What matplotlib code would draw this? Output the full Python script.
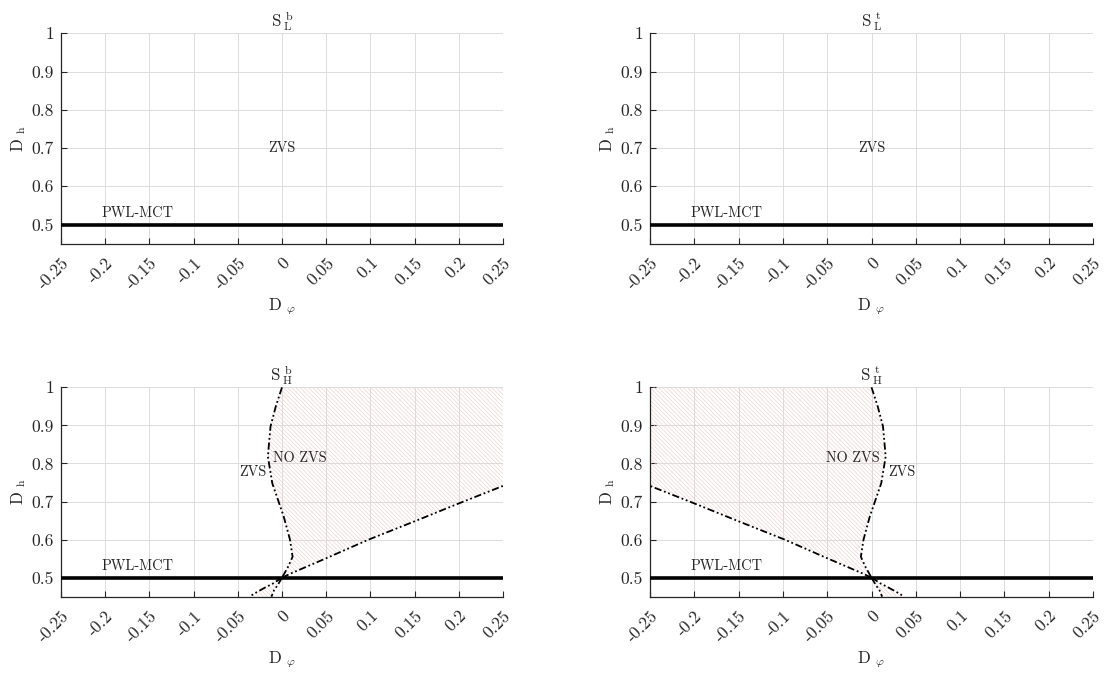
import matplotlib
matplotlib.use("Agg")
import matplotlib.pyplot as plt
import numpy as np

plt.rcParams['font.family'] = ['cmr10', 'DejaVu Serif']
plt.rcParams['mathtext.fontset'] = 'cm'
plt.rcParams['axes.unicode_minus'] = False
plt.rcParams['hatch.linewidth'] = 0.45
plt.rcParams['hatch.color'] = '#f0cfcf'

# ---- data ----
x_ticks = [-0.25, -0.2, -0.15, -0.1, -0.05, 0, 0.05, 0.1, 0.15, 0.2, 0.25]
x_ticklabels = ['-0.25', '-0.2', '-0.15', '-0.1', '-0.05', '0', '0.05', '0.1', '0.15', '0.2', '0.25']
y_ticks = [0.5, 0.6, 0.7, 0.8, 0.9, 1.0]
y_ticklabels = ['0.5', '0.6', '0.7', '0.8', '0.9', '1']

pwl_level = 0.5

# boundary curve 1 (S-shaped), for the "b" panel; "t" panel is its mirror
c1_upper_x = [0.0, -0.007, -0.013, -0.016, -0.011, 0.002, 0.009, 0.012, 0.007, 0.0]
c1_upper_y = [1.0, 0.95, 0.897, 0.818, 0.748, 0.66, 0.60, 0.555, 0.529, 0.5]
c1_lower_x = [0.0, -0.005, -0.009, -0.012]
c1_lower_y = [0.5, 0.48, 0.467, 0.45]

# boundary curve 2 (nearly straight)
c2_upper_x = [0.0, 0.01, 0.05, 0.098, 0.15, 0.2, 0.25]
c2_upper_y = [0.5, 0.511, 0.551, 0.60, 0.648, 0.695, 0.741]
c2_lower_x = [0.0, -0.01, -0.02, -0.03, -0.037]
c2_lower_y = [0.5, 0.485, 0.473, 0.46, 0.45]

titles = [r'$\mathrm{S}\,_{\mathrm{L}}^{\,\mathrm{b}}$', r'$\mathrm{S}\,_{\mathrm{L}}^{\,\mathrm{t}}$',
          r'$\mathrm{S}\,_{\mathrm{H}}^{\,\mathrm{b}}$', r'$\mathrm{S}\,_{\mathrm{H}}^{\,\mathrm{t}}$']

fig = plt.figure(figsize=(11.13, 6.75), dpi=100)
W, H = 1113, 675
positions = [
    (61, 33.3, 503, 243.7),
    (650, 33.3, 1093, 243.7),
    (61, 387.3, 503, 596.7),
    (650, 387.3, 1093, 596.7),
]
axes = []
for (l, t, r, b) in positions:
    ax = fig.add_axes([l / W, 1 - b / H, (r - l) / W, (b - t) / H])
    axes.append(ax)

line_style = (0, (4, 1.5, 1, 1.5, 1, 1.5))
fs = 12.6
lfs = 12.2
tfs = 10.3
hatch = '\\' * 8
txtc = '#262626'

for i, ax in enumerate(axes):
    ax.set_xlim(-0.25, 0.25)
    ax.set_ylim(0.45, 1.0)
    ax.set_xticks(x_ticks)
    ax.set_xticklabels(x_ticklabels, rotation=45, ha='right', va='top',
                       rotation_mode='anchor', fontsize=fs, color=txtc)
    ax.set_yticks(y_ticks)
    ax.set_yticklabels(y_ticklabels, fontsize=fs, color=txtc)
    ax.tick_params(direction='in', length=4, width=0.8, color=txtc)
    ax.tick_params(axis='x', pad=8)
    ax.tick_params(axis='y', pad=5)
    ax.grid(True, color='#dcdcdc', linewidth=0.7)
    ax.set_axisbelow(True)
    for s in ['top', 'right']:
        ax.spines[s].set_visible(False)
    for s in ['left', 'bottom']:
        ax.spines[s].set_color(txtc)
        ax.spines[s].set_linewidth(0.9)
    ax.set_xlabel(r'$\mathrm{D}\ _{\varphi}$', fontsize=lfs, color=txtc, labelpad=3)
    ax.set_ylabel(r'$\mathrm{D}\ _{\mathrm{h}}$', fontsize=lfs, color=txtc, labelpad=3)
    ax.set_title(titles[i], fontsize=lfs, color=txtc, pad=2)

    ax.axhline(pwl_level, color='black', linewidth=2.6, zorder=4)

    if i < 2:
        ax.text(0, 0.7, 'ZVS', ha='center', va='center', fontsize=tfs, color=txtc)
        ax.text(-0.164, 0.53, 'PWL-MCT', ha='center', va='center', fontsize=tfs, color=txtc)
    else:
        sgn = 1 if i == 2 else -1
        c1ux = sgn * np.array(c1_upper_x)
        c1lx = sgn * np.array(c1_lower_x)
        c2ux = sgn * np.array(c2_upper_x)
        c2lx = sgn * np.array(c2_lower_x)
        # hatched NO ZVS regions
        poly_x = list(c1ux) + list(c2ux[1:]) + [sgn * 0.25]
        poly_y = list(c1_upper_y) + list(c2_upper_y[1:]) + [1.0]
        ax.fill(poly_x, poly_y, facecolor='none', edgecolor='#f0cfcf', hatch=hatch, linewidth=0, zorder=1)
        poly2_x = list(c1lx) + list(c2lx[::-1])
        poly2_y = list(c1_lower_y) + list(c2_lower_y[::-1])
        ax.fill(poly2_x, poly2_y, facecolor='none', edgecolor='#f0cfcf', hatch=hatch, linewidth=0, zorder=1)

        ax.plot(c1ux, c1_upper_y, color='black', linestyle=line_style, linewidth=1.3, zorder=5)
        ax.plot(c1lx, c1_lower_y, color='black', linestyle=line_style, linewidth=1.3, zorder=5)
        ax.plot(c2ux, c2_upper_y, color='black', linestyle=line_style, linewidth=1.3, zorder=5)
        ax.plot(c2lx, c2_lower_y, color='black', linestyle=line_style, linewidth=1.3, zorder=5)

        if i == 2:
            ax.text(-0.010, 0.814, 'NO ZVS', ha='left', va='center', fontsize=tfs, color=txtc)
            ax.text(-0.018, 0.778, 'ZVS', ha='right', va='center', fontsize=tfs, color=txtc)
        else:
            ax.text(0.009, 0.814, 'NO ZVS', ha='right', va='center', fontsize=tfs, color=txtc)
            ax.text(0.019, 0.778, 'ZVS', ha='left', va='center', fontsize=tfs, color=txtc)
        ax.text(-0.164, 0.53, 'PWL-MCT', ha='center', va='center', fontsize=tfs, color=txtc)

fig.savefig('out.png', dpi=100)
